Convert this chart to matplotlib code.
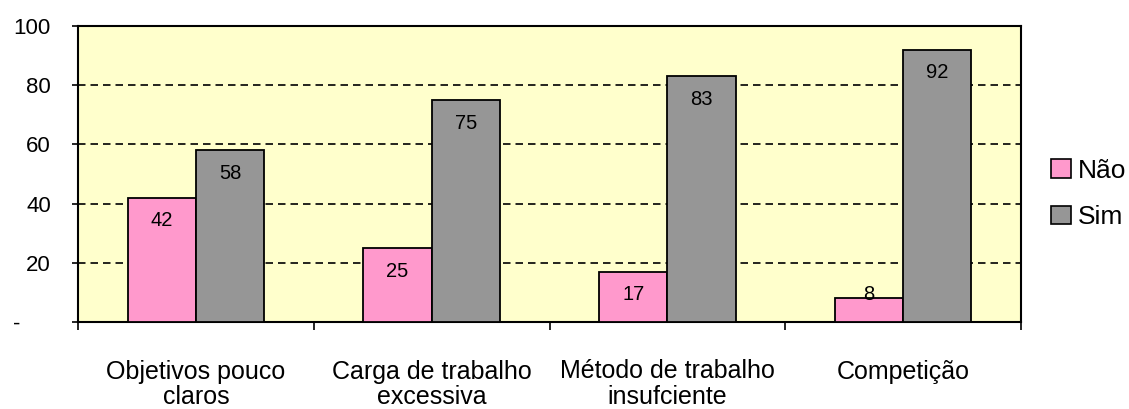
import matplotlib
matplotlib.use("Agg")
import matplotlib.pyplot as plt
import numpy as np
from matplotlib.patches import Patch

categories = ["Objetivos pouco\nclaros", "Carga de trabalho\nexcessiva",
              "Método de trabalho\ninsufciente", "Competição"]
nao = [42, 25, 17, 8]
sim = [58, 75, 83, 92]
series_names = ["Não", "Sim"]
yticks = [0, 20, 40, 60, 80, 100]
ytick_labels = ["-     ", "20", "40", "60", "80", "100"]

plt.rcParams['font.family'] = ['Liberation Sans', 'DejaVu Sans']

fig = plt.figure(figsize=(11.29, 4.09), dpi=100)
ax = fig.add_axes([78/1129, 1 - 322/409, (1021-78)/1129, (322-26)/409])
ax.set_facecolor("#FFFFCC")

x = np.arange(len(categories))
w = 0.289
ax.bar(x - w/2, nao, w, color="#FF99CC", edgecolor="black", linewidth=1.3, zorder=3)
ax.bar(x + w/2, sim, w, color="#969696", edgecolor="black", linewidth=1.3, zorder=3)

for xs, vals in ((x - w/2, nao), (x + w/2, sim)):
    for xi, v in zip(xs, vals):
        ax.text(xi, max(v - 7.8, 9.2), str(v), ha="center", va="center",
                fontsize=14.5, color="black", zorder=4)

ax.set_xlim(-0.5, len(categories) - 0.5)
ax.set_ylim(0, 100)
ax.set_yticks(yticks)
ax.set_yticklabels(ytick_labels, fontsize=16)
ax.tick_params(axis="y", length=4.5, width=1.2, pad=15, direction="out")

ax.set_xticks(np.arange(len(categories) + 1) - 0.5)
ax.set_xticklabels([])
ax.tick_params(axis="x", which="major", length=6, width=1.2, direction="out")
ax.set_xticks(x, minor=True)
ax.set_xticklabels(categories, minor=True, fontsize=18, linespacing=1.08)
ax.tick_params(axis="x", which="minor", length=0, pad=27)

for yv in yticks[1:-1]:
    ax.axhline(yv, color="black", linewidth=1.2, linestyle=(0, (4.5, 3)), zorder=1)

for s in ax.spines.values():
    s.set_color("black")
    s.set_linewidth(1.5)

handles = [Patch(facecolor="#FF99CC", edgecolor="black", linewidth=1.2),
           Patch(facecolor="#969696", edgecolor="black", linewidth=1.2)]
fig.legend(handles, series_names, loc="center left",
           bbox_to_anchor=(1051/1129, 1 - 194/409), frameon=False,
           fontsize=19, handlelength=0.75, handleheight=0.7,
           handletextpad=0.25, labelspacing=0.85, borderaxespad=0, borderpad=0)

fig.savefig("out.png", dpi=100)
